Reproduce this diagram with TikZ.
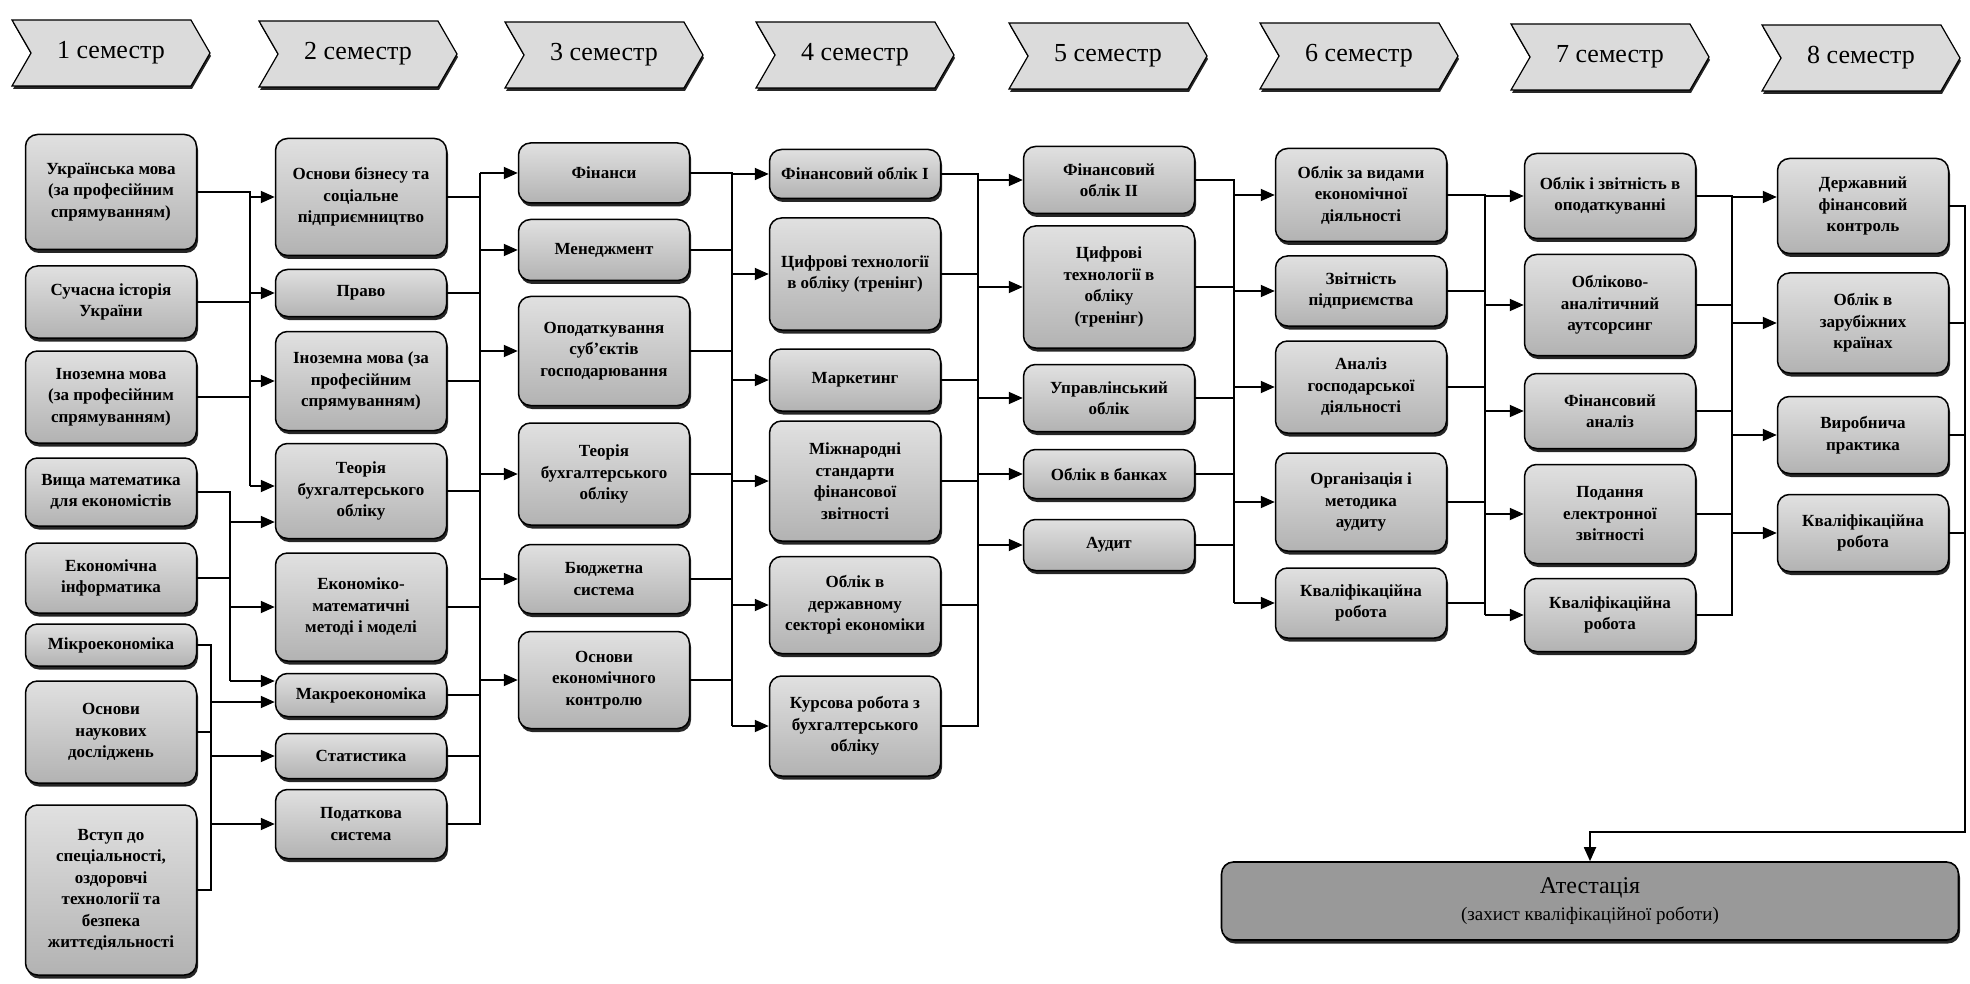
\documentclass[tikz,border=0pt]{standalone}
\usepackage{fontspec}
\setmainfont{Liberation Serif}
\usetikzlibrary{arrows.meta,shapes.symbols,shadows}

\begin{document}
\begin{tikzpicture}[x=1pt,y=-1pt]
	\tikzset{
		subj/.style={draw, line width=1.5pt, rounded corners=12pt,
			top color=black!12, bottom color=black!30,
			drop shadow={shadow xshift=1.5pt, shadow yshift=-3.5pt, fill=black!85, opacity=1},
			minimum width=171pt, minimum height=#1, inner sep=2pt, align=center,
			font=\bfseries\fontsize{17}{21.5}\selectfont},
		sem/.style={shape=signal, signal from=west, signal to=east, signal pointer angle=120,
			draw, line width=1.2pt, fill=black!14,
			drop shadow={shadow xshift=1pt, shadow yshift=-3pt, fill=black!85, opacity=1},
			minimum width=198pt, minimum height=66pt, font=\fontsize{26}{30}\selectfont},
		atest/.style={draw, line width=1.6pt, rounded corners=12pt, fill=black!40,
			drop shadow={shadow xshift=1.5pt, shadow yshift=-3.5pt, fill=black!85, opacity=1},
			minimum width=737pt, minimum height=78pt, align=center,
			font=\fontsize{24}{27}\selectfont},
		conn/.style={line width=1.8pt},
		connarrow/.style={line width=1.8pt, -{Triangle[length=14pt, width=12pt]}}
	}
	\useasboundingbox (0,0) rectangle (1970,984);
	
	\node[sem] (sem1) at (111,53) {1 семестр};
	\node[sem] (sem2) at (358,54) {2 семестр};
	\node[sem] (sem3) at (604,55) {3 семестр};
	\node[sem] (sem4) at (855,55) {4 семестр};
	\node[sem] (sem5) at (1108,56) {5 семестр};
	\node[sem] (sem6) at (1359,56) {6 семестр};
	\node[sem] (sem7) at (1610,57) {7 семестр};
	\node[sem] (sem8) at (1861,58) {8 семестр};
	
	\node[subj=115pt] (s11) at (111,192) {Українська мова\\(за професійним\\спрямуванням)};
	\node[subj=72pt] (s12) at (111,302) {Сучасна історія\\України};
	\node[subj=92pt] (s13) at (111,397) {Іноземна мова\\(за професійним\\спрямуванням)};
	\node[subj=68pt] (s14) at (111,492) {Вища математика\\для економістів};
	\node[subj=70pt] (s15) at (111,578) {Економічна\\інформатика};
	\node[subj=42pt] (s16) at (111,645) {Мікроекономіка};
	\node[subj=102pt] (s17) at (111,732) {Основи\\наукових\\досліджень};
	\node[subj=170pt] (s18) at (111,890) {Вступ до\\спеціальності,\\оздоровчі\\технології та\\безпека\\життєдіяльності};
	
	\node[subj=117pt] (s21) at (361,197) {Основи бізнесу та\\соціальне\\підприємництво};
	\node[subj=47pt] (s22) at (361,293) {Право};
	\node[subj=99pt] (s23) at (361,381) {Іноземна мова (за\\професійним\\спрямуванням)};
	\node[subj=95pt] (s24) at (361,491) {Теорія\\бухгалтерського\\обліку};
	\node[subj=108pt] (s25) at (361,607) {Економіко-\\математичні\\методі і моделі};
	\node[subj=43pt] (s26) at (361,695) {Макроекономіка};
	\node[subj=45pt] (s27) at (361,756) {Статистика};
	\node[subj=69pt] (s28) at (361,824) {Податкова\\система};
	
	\node[subj=60pt] (s31) at (604,173) {Фінанси};
	\node[subj=61pt] (s32) at (604,250) {Менеджмент};
	\node[subj=109pt] (s33) at (604,351) {Оподаткування\\суб’єктів\\господарювання};
	\node[subj=102pt] (s34) at (604,474) {Теорія\\бухгалтерського\\обліку};
	\node[subj=69pt] (s35) at (604,579) {Бюджетна\\система};
	\node[subj=97pt] (s36) at (604,680) {Основи\\економічного\\контролю};
	
	\node[subj=49pt] (s41) at (855,174) {Фінансовий облік I};
	\node[subj=112pt] (s42) at (855,274) {Цифрові технології\\в обліку (тренінг)};
	\node[subj=62pt] (s43) at (855,380) {Маркетинг};
	\node[subj=120pt] (s44) at (855,481) {Міжнародні\\стандарти\\фінансової\\звітності};
	\node[subj=97pt] (s45) at (855,605) {Облік в\\державному\\секторі економіки};
	\node[subj=100pt] (s46) at (855,726) {Курсова робота з\\бухгалтерського\\обліку};
	
	\node[subj=67pt] (s51) at (1109,180) {Фінансовий\\облік II};
	\node[subj=122pt] (s52) at (1109,287) {Цифрові\\технології в\\обліку\\(тренінг)};
	\node[subj=67pt] (s53) at (1109,398) {Управлінський\\облік};
	\node[subj=49pt] (s54) at (1109,474) {Облік в банках};
	\node[subj=51pt] (s55) at (1109,545) {Аудит};
	
	\node[subj=93pt] (s61) at (1361,195) {Облік за видами\\економічної\\діяльності};
	\node[subj=70pt] (s62) at (1361,291) {Звітність\\підприємства};
	\node[subj=92pt] (s63) at (1361,387) {Аналіз\\господарської\\діяльності};
	\node[subj=98pt] (s64) at (1361,502) {Організація і\\методика\\аудиту};
	\node[subj=70pt] (s65) at (1361,603) {Кваліфікаційна\\робота};
	
	\node[subj=85pt] (s71) at (1610,196) {Облік і звітність в\\оподаткуванні};
	\node[subj=101pt] (s72) at (1610,305) {Обліково-\\аналітичний\\аутсорсинг};
	\node[subj=75pt] (s73) at (1610,411) {Фінансовий\\аналіз};
	\node[subj=99pt] (s74) at (1610,514) {Подання\\електронної\\звітності};
	\node[subj=73pt] (s75) at (1610,615) {Кваліфікаційна\\робота};
	
	\node[subj=95pt] (s81) at (1863,206) {Державний\\фінансовий\\контроль};
	\node[subj=100pt] (s82) at (1863,323) {Облік в\\зарубіжних\\країнах};
	\node[subj=77pt] (s83) at (1863,435) {Виробнича\\практика};
	\node[subj=77pt] (s84) at (1863,533) {Кваліфікаційна\\робота};
	
	\node[atest] (atest) at (1590,901) {Атестація\\{\fontsize{19}{22}\selectfont(захист кваліфікаційної роботи)}};
	
	\coordinate (bus1) at (250,0);
	\coordinate (bus1b) at (230,0);
	\coordinate (bus1c) at (211,0);
	\coordinate (bus2) at (480,0);
	\coordinate (bus3) at (732,0);
	\coordinate (bus4) at (978,0);
	\coordinate (bus5) at (1234,0);
	\coordinate (bus6) at (1485,0);
	\coordinate (bus7) at (1732,0);
	\coordinate (turn) at (1965,832);
	\coordinate (s24a) at ([yshift=5pt]s24.west);
	\coordinate (s24b) at ([yshift=-31pt]s24.west);
	\coordinate (s26a) at ([yshift=14pt]s26.west);
	\coordinate (s26b) at ([yshift=-7pt]s26.west);
	\coordinate (s81a) at ([yshift=9pt]s81.west);
	
	\draw[conn] (s11.east) -| (s24a -| bus1);
	\draw[conn] (s12.east) -- (s12.east -| bus1);
	\draw[conn] (s13.east) -- (s13.east -| bus1);
	\draw[connarrow] (s21.west -| bus1) -- (s21.west);
	\draw[connarrow] (s22.west -| bus1) -- (s22.west);
	\draw[connarrow] (s23.west -| bus1) -- (s23.west);
	\draw[connarrow] (s24a -| bus1) -- (s24a);
	
	\draw[conn] (s14.east) -| (s26a -| bus1b);
	\draw[conn] (s15.east) -- (s15.east -| bus1b);
	\draw[connarrow] (s24b -| bus1b) -- (s24b);
	\draw[connarrow] (s25.west -| bus1b) -- (s25.west);
	\draw[connarrow] (s26a -| bus1b) -- (s26a);
	
	\draw[conn] (s16.east) -| (s18.east -| bus1c) -- (s18.east);
	\draw[conn] (s17.east) -- (s17.east -| bus1c);
	\draw[connarrow] (s26b -| bus1c) -- (s26b);
	\draw[connarrow] (s27.west -| bus1c) -- (s27.west);
	\draw[connarrow] (s28.west -| bus1c) -- (s28.west);
	
	\draw[conn] (s28.east) -| (s31.west -| bus2);
	\draw[conn] (s21.east) -- (s21.east -| bus2);
	\draw[conn] (s22.east) -- (s22.east -| bus2);
	\draw[conn] (s23.east) -- (s23.east -| bus2);
	\draw[conn] (s24.east) -- (s24.east -| bus2);
	\draw[conn] (s25.east) -- (s25.east -| bus2);
	\draw[conn] (s26.east) -- (s26.east -| bus2);
	\draw[conn] (s27.east) -- (s27.east -| bus2);
	\draw[connarrow] (s31.west -| bus2) -- (s31.west);
	\draw[connarrow] (s32.west -| bus2) -- (s32.west);
	\draw[connarrow] (s33.west -| bus2) -- (s33.west);
	\draw[connarrow] (s34.west -| bus2) -- (s34.west);
	\draw[connarrow] (s35.west -| bus2) -- (s35.west);
	\draw[connarrow] (s36.west -| bus2) -- (s36.west);
	
	\draw[conn] (s31.east) -| (s46.west -| bus3);
	\draw[conn] (s32.east) -- (s32.east -| bus3);
	\draw[conn] (s33.east) -- (s33.east -| bus3);
	\draw[conn] (s34.east) -- (s34.east -| bus3);
	\draw[conn] (s35.east) -- (s35.east -| bus3);
	\draw[conn] (s36.east) -- (s36.east -| bus3);
	\draw[connarrow] (s41.west -| bus3) -- (s41.west);
	\draw[connarrow] (s42.west -| bus3) -- (s42.west);
	\draw[connarrow] (s43.west -| bus3) -- (s43.west);
	\draw[connarrow] (s44.west -| bus3) -- (s44.west);
	\draw[connarrow] (s45.west -| bus3) -- (s45.west);
	\draw[connarrow] (s46.west -| bus3) -- (s46.west);
	
	\draw[conn] (s41.east) -| (s46.east -| bus4) -- (s46.east);
	\draw[conn] (s42.east) -- (s42.east -| bus4);
	\draw[conn] (s43.east) -- (s43.east -| bus4);
	\draw[conn] (s44.east) -- (s44.east -| bus4);
	\draw[conn] (s45.east) -- (s45.east -| bus4);
	\draw[connarrow] (s51.west -| bus4) -- (s51.west);
	\draw[connarrow] (s52.west -| bus4) -- (s52.west);
	\draw[connarrow] (s53.west -| bus4) -- (s53.west);
	\draw[connarrow] (s54.west -| bus4) -- (s54.west);
	\draw[connarrow] (s55.west -| bus4) -- (s55.west);
	
	\draw[conn] (s51.east) -| (s65.west -| bus5);
	\draw[conn] (s52.east) -- (s52.east -| bus5);
	\draw[conn] (s53.east) -- (s53.east -| bus5);
	\draw[conn] (s54.east) -- (s54.east -| bus5);
	\draw[conn] (s55.east) -- (s55.east -| bus5);
	\draw[connarrow] (s61.west -| bus5) -- (s61.west);
	\draw[connarrow] (s62.west -| bus5) -- (s62.west);
	\draw[connarrow] (s63.west -| bus5) -- (s63.west);
	\draw[connarrow] (s64.west -| bus5) -- (s64.west);
	\draw[connarrow] (s65.west -| bus5) -- (s65.west);
	
	\draw[conn] (s61.east) -| (s75.west -| bus6);
	\draw[conn] (s62.east) -- (s62.east -| bus6);
	\draw[conn] (s63.east) -- (s63.east -| bus6);
	\draw[conn] (s64.east) -- (s64.east -| bus6);
	\draw[conn] (s65.east) -- (s65.east -| bus6);
	\draw[connarrow] (s71.west -| bus6) -- (s71.west);
	\draw[connarrow] (s72.west -| bus6) -- (s72.west);
	\draw[connarrow] (s73.west -| bus6) -- (s73.west);
	\draw[connarrow] (s74.west -| bus6) -- (s74.west);
	\draw[connarrow] (s75.west -| bus6) -- (s75.west);
	
	\draw[conn] (s71.east) -| (s75.east -| bus7) -- (s75.east);
	\draw[conn] (s72.east) -- (s72.east -| bus7);
	\draw[conn] (s73.east) -- (s73.east -| bus7);
	\draw[conn] (s74.east) -- (s74.east -| bus7);
	\draw[connarrow] (s81a -| bus7) -- (s81a);
	\draw[connarrow] (s82.west -| bus7) -- (s82.west);
	\draw[connarrow] (s83.west -| bus7) -- (s83.west);
	\draw[connarrow] (s84.west -| bus7) -- (s84.west);
	
	\draw[conn] (s82.east) -- (s82.east -| turn);
	\draw[conn] (s83.east) -- (s83.east -| turn);
	\draw[conn] (s84.east) -- (s84.east -| turn);
	\draw[connarrow] (s81.east) -| (turn) -| (atest.north);
\end{tikzpicture}
\end{document}
